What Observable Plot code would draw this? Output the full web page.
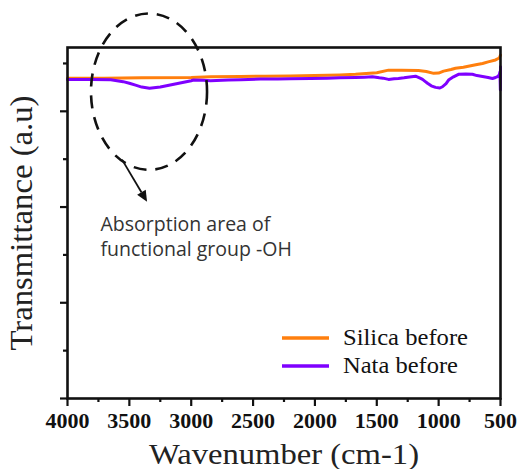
<!DOCTYPE html>
<html>
<head>
<meta charset="utf-8">
<script src="https://cdn.jsdelivr.net/npm/d3@7"></script>
<script src="https://cdn.jsdelivr.net/npm/@observablehq/plot@0.6"></script>
<style>
  html, body { margin: 0; padding: 0; background: #fff; }
  #chart { width: 520px; height: 469px; }
</style>
</head>
<body>
<div id="chart"></div>
<script>
// Wavenumber (cm-1) and transmittance (a.u., arbitrary units)
const silicaWave = [4000, 3700, 3400, 3000, 2844, 2600, 2400, 2200, 2000, 1800, 1672, 1500, 1405, 1300, 1163, 1100, 1040, 1000, 960, 900, 864, 800, 750, 700, 645, 600, 540, 510, 500];
const silicaT    = [100.4, 100.4, 100.5, 100.6, 100.8, 100.9, 101.0, 101.1, 101.2, 101.4, 101.6, 102.1, 102.9, 102.9, 102.8, 102.5, 101.9, 102.0, 102.6, 103.1, 103.5, 103.8, 104.2, 104.6, 105.0, 105.5, 106.1, 106.7, 107.6];

const nataWave = [4000, 3800, 3650, 3550, 3500, 3450, 3400, 3337, 3250, 3200, 3100, 3000, 2982, 2900, 2844, 2700, 2600, 2440, 2300, 2200, 2036, 1900, 1800, 1672, 1600, 1535, 1480, 1450, 1405, 1360, 1325, 1280, 1250, 1187, 1150, 1130, 1110, 1090, 1060, 1025, 990, 969, 940, 920, 880, 840, 780, 727, 690, 645, 600, 565, 540, 524, 510, 505, 503, 501, 500];
const nataT    = [100.0, 100.0, 99.9, 99.3, 98.8, 98.2, 97.6, 97.2, 97.6, 98.0, 98.8, 99.6, 99.8, 99.7, 99.6, 99.8, 99.9, 100.1, 100.1, 100.2, 100.3, 100.4, 100.5, 100.6, 100.7, 100.8, 100.5, 100.4, 100.0, 100.2, 100.3, 100.5, 100.7, 101.0, 100.4, 100.0, 99.4, 98.8, 98.0, 97.5, 97.3, 97.7, 98.7, 99.8, 100.8, 101.6, 101.7, 101.6, 101.2, 100.9, 100.6, 100.3, 100.6, 100.9, 101.4, 102.3, 99.8, 96.7, 104.0];

const seriesNames  = ["Silica before", "Nata before"];
const seriesColors = ["#ff7f0e", "#7f00ff"];
const legendWidths = [125, 115];

const xMajor = [4000, 3500, 3000, 2500, 2000, 1500, 1000, 500];
const xMinor = [3750, 3250, 2750, 2250, 1750, 1250, 750];
const yMajor = [0, 30, 60, 90];
const yMinor = [15, 45, 75, 105];

const xTitle = "Wavenumber (cm-1)";
const yTitle = "Transmittance (a.u)";
const annotationText = "Absorption area of\nfunctional group -OH";
// annotation anchors in data units
const ohCenter = {x: 3337, y: 96.0, rx: 469, ry: 24.5};
const arrowFrom = {x: 3555, y: 74.7};
const arrowTo = {x: 3353, y: 61.5};
const textAt = {x: 3733, y: 58.0};

const rows = [];
silicaWave.forEach((w, i) => rows.push({series: seriesNames[0], w, t: silicaT[i]}));
nataWave.forEach((w, i) => rows.push({series: seriesNames[1], w, t: nataT[i]}));

function ellipseMark(index, scales, values, dims, context) {
  const svg = d3.create("svg:g");
  const cx = scales.x(ohCenter.x), cy = scales.y(ohCenter.y);
  const rx = Math.abs(scales.x(ohCenter.x + ohCenter.rx) - cx);
  const ry = Math.abs(scales.y(ohCenter.y + ohCenter.ry) - cy);
  svg.append("ellipse")
    .attr("cx", cx).attr("cy", cy).attr("rx", rx).attr("ry", ry)
    .attr("fill", "none").attr("stroke", "#111").attr("stroke-width", 2.6)
    .attr("stroke-dasharray", "13,9");
  const x1 = scales.x(arrowFrom.x), y1 = scales.y(arrowFrom.y);
  const x2 = scales.x(arrowTo.x), y2 = scales.y(arrowTo.y);
  const ang = Math.atan2(y2 - y1, x2 - x1);
  const hl = 11, hw = 5;
  const bx = x2 - hl * Math.cos(ang), by = y2 - hl * Math.sin(ang);
  svg.append("line").attr("x1", x1).attr("y1", y1).attr("x2", bx).attr("y2", by)
    .attr("stroke", "#111").attr("stroke-width", 1.8);
  svg.append("polygon")
    .attr("points", [
      [x2, y2],
      [bx + hw * Math.sin(ang), by - hw * Math.cos(ang)],
      [bx - hw * Math.sin(ang), by + hw * Math.cos(ang)]
    ].map(p => p.join(",")).join(" "))
    .attr("fill", "#111");
  return svg.node();
}

function legendMark(index, scales, values, dims, context) {
  const g = d3.create("svg:g");
  const right = dims.width - dims.marginRight;
  const bottom = dims.height - dims.marginBottom;
  seriesNames.forEach((name, i) => {
    const y = bottom - 60 + i * 28;
    g.append("line").attr("x1", right - 218).attr("x2", right - 171)
      .attr("y1", y).attr("y2", y)
      .attr("stroke", seriesColors[i]).attr("stroke-width", 3.5);
    g.append("text").attr("x", right - 157).attr("y", y + 7)
      .attr("text-anchor", "start")
      .attr("font-family", "Liberation Serif, serif").attr("font-size", 23)
      .attr("fill", "#111")
      .attr("textLength", legendWidths[i]).attr("lengthAdjust", "spacingAndGlyphs")
      .text(name);
  });
  return g.node();
}

const chart = Plot.plot({
  width: 520,
  height: 469,
  marginLeft: 67,
  marginRight: 20,
  marginTop: 47,
  marginBottom: 71,
  style: {fontFamily: "Liberation Serif, serif", color: "#111", background: "#fff", overflow: "visible"},
  x: {domain: [4000, 500], label: null},
  y: {domain: [0, 110], label: null},
  color: {domain: seriesNames, range: seriesColors},
  marks: [
    Plot.line(rows, {x: "w", y: "t", z: "series", stroke: "series", strokeWidth: 3, curve: "linear"}),
    Plot.frame({stroke: "#111", strokeWidth: 2.6}),
    Plot.axisX({ticks: xMajor, tickSize: 8, tickPadding: 6, tickFormat: d => String(d), fontSize: 22, fontWeight: "bold", strokeWidth: 2.2, label: null}),
    Plot.axisX({ticks: xMinor, tickSize: 4, tickFormat: () => "", strokeWidth: 2.2, label: null}),
    Plot.axisY({ticks: yMajor, tickSize: 7, tickFormat: () => "", strokeWidth: 2.2, label: null}),
    Plot.axisY({ticks: yMinor, tickSize: 4, tickFormat: () => "", strokeWidth: 2.2, label: null}),
    Plot.text([xTitle], {frameAnchor: "bottom", dy: 56, fontSize: 29, fill: "#222", lineAnchor: "middle", textAnchor: "middle"}),
    Plot.text([yTitle], {frameAnchor: "left", dx: -45, rotate: -90, fontSize: 31, fill: "#222", lineAnchor: "middle", textAnchor: "middle"}),
    Plot.text([annotationText], {x: textAt.x, y: textAt.y, text: d => d, textAnchor: "start", lineAnchor: "top", fontFamily: "Open Sans, sans-serif", fontSize: 19.5, lineHeight: 1.28, fill: "#333"}),
    ellipseMark,
    legendMark
  ]
});
// stretch the axis titles horizontally as in the reference rendering
d3.select(chart).selectAll("text").each(function () {
  if (this.textContent === xTitle) {
    d3.select(this).attr("textLength", 270).attr("lengthAdjust", "spacingAndGlyphs");
  } else if (this.textContent === yTitle) {
    d3.select(this).attr("textLength", 255).attr("lengthAdjust", "spacingAndGlyphs");
  }
});
document.getElementById("chart").append(chart);
</script>
</body>
</html>
